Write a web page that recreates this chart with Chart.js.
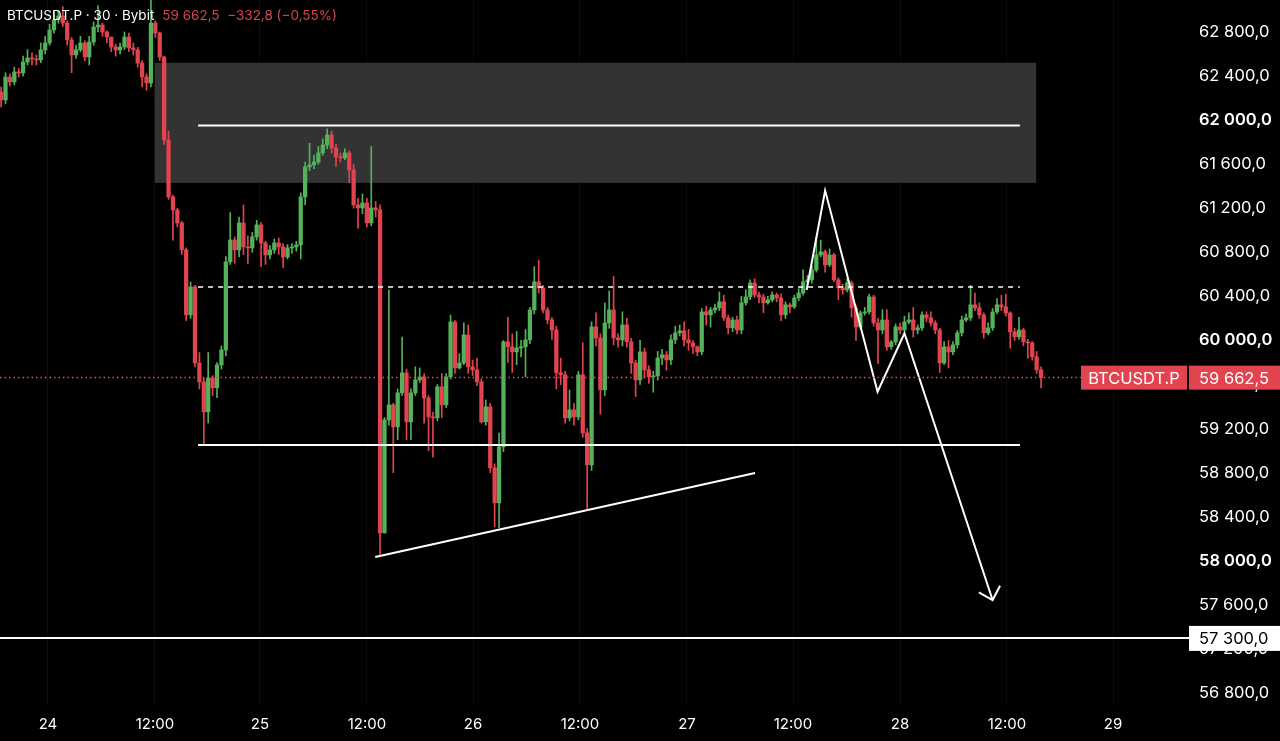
<!DOCTYPE html>
<html>
<head>
<meta charset="utf-8">
<script src="https://cdn.jsdelivr.net/npm/chart.js@4.4.1/dist/chart.umd.min.js"></script>
<style>
html, body { margin: 0; padding: 0; background: #000; }
#wrap { width: 1280px; height: 741px; position: relative; }
</style>
</head>
<body>
<div id="wrap"><canvas id="btc-chart"></canvas></div>
<script>
// BTCUSDT.P 30m candles (open = previous close)
const firstOpen = 62255;
const candleCloses = [
  62183,62391,62346,62437,62428,62527,62564,62555,62546,62637,
  62700,62818,62909,62945,62881,62727,62591,62637,62700,62573,
  62709,62845,62863,62800,62754,62664,62637,62664,62754,62655,
  62637,62518,62391,62337,62881,62791,62573,61820,61303,61185,
  61067,60822,60232,60486,59796,59624,59352,59660,59570,59778,
  59914,60713,60912,60822,61067,60849,60840,60940,61049,60885,
  60776,60822,60885,60849,60758,60840,60849,60867,61303,61575,
  61593,61620,61702,61774,61865,61747,61666,61657,61702,61548,
  61230,61203,61248,61067,61203,61185,58254,59279,59415,59216,
  59524,59706,59261,59524,59642,59669,59479,59306,59297,59579,
  59415,59669,60168,59751,59796,60050,59760,59733,59624,59261,
  59397,58844,58526,59034,59987,59942,59896,59932,59942,60005,
  60277,60532,60477,60277,60186,60095,59706,59688,59297,59370,
  59306,59688,59161,58871,60123,60023,59551,60159,60277,60023,
  60005,60141,59987,59796,59642,59896,59733,59669,59678,59841,
  59869,59823,60005,60069,60087,60005,59978,59942,59896,60259,
  60232,60277,60295,60350,60205,60114,60186,60095,60341,60395,
  60522,60413,60395,60341,60368,60413,60386,60232,60323,60305,
  60386,60431,60532,60550,60640,60776,60804,60686,60776,60550,
  60477,60459,60522,60296,60123,60250,60259,60395,60159,60095,
  60186,59942,59987,60123,60095,60168,60186,60095,60114,60232,
  60205,60159,60095,59796,59942,59896,59960,60069,60186,60205,
  60323,60296,60232,60069,60114,60259,60323,60305,60250,60078,
  60033,60095,59987,59978,59851,59733,59662.5
];
const candleHighs = [
  62300,62430,62420,62480,62470,62580,62640,62610,62590,62700,
  62760,62870,62980,62990,63030,62900,62750,62680,62760,62720,
  62760,62890,63040,62880,62810,62730,62690,62700,62800,62790,
  62700,62660,62540,62420,63090,62900,62800,62580,61900,61320,
  61200,61080,60840,60530,60500,59890,59660,59890,59680,59800,
  59950,60760,61160,60940,61120,61230,60950,60980,61090,61070,
  60900,60860,60920,60930,60880,60870,60880,60900,61340,61620,
  61790,61680,61760,61830,61920,61900,61780,61700,61740,61720,
  61600,61290,61330,61290,61760,61260,61230,59300,60460,59430,
  59560,60030,59740,59560,59760,59750,59700,59500,59350,59600,
  59700,59700,60230,60180,59880,60160,60140,59820,59840,59650,
  59460,59430,58880,59160,60000,60210,60060,60080,60000,60100,
  60300,60670,60730,60500,60300,60210,60130,59840,59720,59550,
  59430,59720,59980,59200,60170,60250,60060,60340,60450,60580,
  60060,60260,60200,60020,59820,60000,59930,59770,59720,59900,
  59920,59900,60050,60130,60140,60170,60100,60000,59950,60290,
  60310,60300,60330,60440,60410,60230,60210,60220,60400,60460,
  60550,60560,60440,60420,60400,60440,60430,60420,60350,60340,
  60410,60470,60640,60590,60680,60940,60910,60820,60830,60790,
  60570,60510,60560,60540,60320,60270,60300,60420,60410,60200,
  60280,60280,60000,60150,60160,60220,60250,60300,60140,60260,
  60260,60260,60180,60110,59990,60000,59990,60090,60220,60240,
  60500,60430,60340,60250,60160,60290,60380,60410,60420,60260,
  60110,60210,60110,60010,59990,59900,59760
];
const candleLows = [
  62120,62150,62310,62320,62390,62400,62500,62500,62500,62520,
  62600,62680,62790,62880,62850,62680,62430,62560,62620,62540,
  62500,62680,62800,62760,62700,62620,62580,62600,62640,62620,
  62590,62480,62300,62270,62300,62750,62540,61780,61280,60910,
  61030,60780,60180,60200,59760,59560,59050,59250,59500,59480,
  59740,59860,60690,60700,60760,60780,60700,60800,60910,60670,
  60690,60740,60790,60780,60660,60740,60790,60810,60740,61230,
  61540,61560,61600,61680,61740,61700,61580,61620,61640,61430,
  61200,61020,61150,61030,61040,61120,58040,58250,59230,58800,
  59100,59500,59100,59100,59500,59620,59250,59000,58940,59270,
  59300,59390,59650,59700,59740,59780,59700,59680,59590,59250,
  59230,58800,58310,58300,58990,59800,59710,59780,59850,59670,
  59970,60240,60430,60250,60150,60010,59560,59600,59250,59270,
  59230,59280,59120,58460,58820,59950,59330,59500,60110,59960,
  59940,59950,59940,59700,59490,59600,59660,59610,59530,59640,
  59780,59730,59780,59970,60040,59950,59910,59880,59860,59870,
  60140,60120,60250,60270,60180,60060,60080,60060,60060,60320,
  60370,60390,60340,60250,60330,60350,60350,60180,60200,60250,
  60290,60360,60410,60510,60520,60620,60760,60620,60670,60530,
  60370,60420,60440,60210,60000,60100,60230,60240,60130,59790,
  60060,59910,59920,59960,60060,60080,60150,60030,60060,60090,
  60170,60130,60060,59710,59780,59750,59870,59930,60040,60170,
  60180,60270,60200,60020,60050,60090,60240,60270,60220,59930,
  60000,60010,59950,59840,59820,59700,59570
];

// time axis: candle index of each label
const tickLabels = ['24', '12:00', '25', '12:00', '26', '12:00', '27', '12:00', '28', '12:00', '29'];
const tickAt = [10.64, 34.92, 58.75, 83.03, 107.09, 131.37, 155.65, 179.71, 203.99, 228.27, 252.33];
const priceTicks = [56800, 57200, 57600, 58000, 58400, 58800, 59200, 59600, 60000,
                    60400, 60800, 61200, 61600, 62000, 62400, 62800];

// drawings on the chart
const zoneX = [34.9, 234.9];
const zoneY = [61430, 62520];
const rangeX = [44.7, 231.2];
const rangeTop = 61950;
const rangeMid = 60485;
const rangeBottom = 59050;
const targetLevel = 57300;
const trendLine = [{x: 84.9, y: 58034}, {x: 171.1, y: 58796}];
const zigzag = [{x: 182.8, y: 60458}, {x: 187.0, y: 61360}, {x: 198.9, y: 59535},
                {x: 205.0, y: 60065}, {x: 225.0, y: 57644}];
const arrowHead = [{x: 221.9, y: 57714}, {x: 225.0, y: 57644}, {x: 226.7, y: 57774}];
const lastPrice = 59662.5;
const xMin = -0.25, xMax = 269.8;

const GREEN = '#55b15a';
const RED = '#e2444f';
const FONT = 'Inter';

const opens = candleCloses.map((c, i) => i === 0 ? firstOpen : candleCloses[i - 1]);
const candleColor = opens.map((o, i) => candleCloses[i] >= o ? GREEN : RED);

function fmtPrice(v) {
  const parts = v.toFixed(1).split('.');
  return parts[0].replace(/\B(?=(\d{3})+(?!\d))/g, '\u00a0') + ',' + parts[1];
}

function hline(level, x0, x1, opts) {
  return Object.assign({
    type: 'line',
    data: [{x: x0, y: level}, {x: x1, y: level}],
    borderColor: '#ffffff',
    borderWidth: 2,
    pointRadius: 0,
    fill: false,
    order: 0
  }, opts || {});
}

const zonePlugin = {
  id: 'zone',
  beforeDatasetsDraw(chart) {
    const {ctx, scales: {x, y}} = chart;
    const x0 = x.getPixelForValue(zoneX[0]), x1 = x.getPixelForValue(zoneX[1]);
    const y0 = y.getPixelForValue(zoneY[1]), y1 = y.getPixelForValue(zoneY[0]);
    ctx.save();
    ctx.fillStyle = '#333333';
    ctx.fillRect(x0, y0, x1 - x0, y1 - y0);
    ctx.restore();
  }
};

const labelPlugin = {
  id: 'labels',
  afterDraw(chart) {
    const {ctx, scales: {y}, chartArea} = chart;
    ctx.save();
    // header
    ctx.textBaseline = 'middle';
    ctx.font = '13.5px ' + FONT;
    ctx.fillStyle = '#ffffff';
    const head = 'BTCUSDT.P \u00b7 30 \u00b7 Bybit';
    ctx.fillText(head, 7, 16);
    let hx = 7 + ctx.measureText(head).width + 8;
    ctx.fillStyle = '#d4464d';
    ctx.fillText(fmtPrice(lastPrice) + '  \u2212332,8 (\u22120,55%)', hx, 16);

    // last price labels
    ctx.font = '16.5px ' + FONT;
    const py = y.getPixelForValue(lastPrice);
    ctx.fillStyle = RED;
    ctx.fillRect(1081, py - 12, 106, 24);
    ctx.fillRect(chartArea.right - 1, py - 12, 1280 - chartArea.right + 1, 24);
    ctx.fillStyle = '#ffffff';
    ctx.textAlign = 'center';
    ctx.fillText('BTCUSDT.P', 1134, py + 1);
    ctx.textAlign = 'left';
    ctx.fillText(fmtPrice(lastPrice), chartArea.right + 9, py + 1);

    // target level label
    const ty = y.getPixelForValue(targetLevel);
    ctx.fillStyle = '#ffffff';
    ctx.fillRect(chartArea.right - 1, ty - 12, 1280 - chartArea.right + 1, 25);
    ctx.fillStyle = '#000000';
    ctx.fillText(fmtPrice(targetLevel), chartArea.right + 9, ty + 1);
    ctx.restore();
  }
};

new Chart(document.getElementById('btc-chart'), {
  type: 'bar',
  data: {
    datasets: [
      {
        label: 'wicks',
        data: candleLows.map((l, i) => ({x: i, y: [l, candleHighs[i]]})),
        backgroundColor: candleColor,
        barThickness: 1,
        grouped: false,
        order: 3
      },
      {
        label: 'bodies',
        data: opens.map((o, i) => ({x: i, y: [o, candleCloses[i]]})),
        backgroundColor: candleColor,
        barThickness: 3.6,
        minBarLength: 1,
        grouped: false,
        order: 2
      },
      hline(rangeTop, rangeX[0], rangeX[1]),
      hline(rangeBottom, rangeX[0], rangeX[1]),
      hline(rangeMid, rangeX[0], rangeX[1], {borderWidth: 1.5, borderDash: [5, 5]}),
      hline(targetLevel, xMin, xMax),
      hline(lastPrice, xMin, 245, {borderColor: '#e0505a', borderWidth: 1.5, borderDash: [1.5, 3]}),
      {type: 'line', data: trendLine, borderColor: '#fff', borderWidth: 2, pointRadius: 0, fill: false, order: 0},
      {type: 'line', data: zigzag, borderColor: '#fff', borderWidth: 2, pointRadius: 0, fill: false, order: 0},
      {type: 'line', data: arrowHead, borderColor: '#fff', borderWidth: 2, pointRadius: 0, fill: false, order: 0}
    ]
  },
  options: {
    responsive: true,
    maintainAspectRatio: false,
    animation: false,
    events: [],
    layout: {padding: 0},
    plugins: {legend: {display: false}, tooltip: {enabled: false}},
    scales: {
      x: {
        type: 'linear',
        min: xMin,
        max: xMax,
        offset: false,
        grid: {color: 'rgba(255,255,255,0.05)', drawTicks: false, offset: false},
        border: {display: false},
        afterFit: s => { s.height = 36; s.paddingLeft = 0; s.paddingRight = 0; },
        afterBuildTicks: s => { s.ticks = tickAt.map(v => ({value: v})); },
        ticks: {
          color: '#ffffff',
          font: {family: FONT, size: 15},
          padding: 10,
          maxRotation: 0,
          autoSkip: false,
          callback: (v, i) => tickLabels[i]
        }
      },
      y: {
        position: 'right',
        min: 56691,
        max: 63090,
        grid: {display: false, drawTicks: false},
        border: {display: false},
        afterFit: s => { s.width = 90; s.paddingTop = 0; s.paddingBottom = 0; },
        afterBuildTicks: s => { s.ticks = priceTicks.map(v => ({value: v})); },
        ticks: {
          color: '#ffffff',
          padding: 9,
          font: ctx => ({family: FONT, size: 16.5, weight: ctx.tick && ctx.tick.value % 2000 === 0 ? '600' : '400'}),
          callback: v => fmtPrice(v)
        }
      }
    }
  },
  plugins: [zonePlugin, labelPlugin]
});
</script>
</body>
</html>
